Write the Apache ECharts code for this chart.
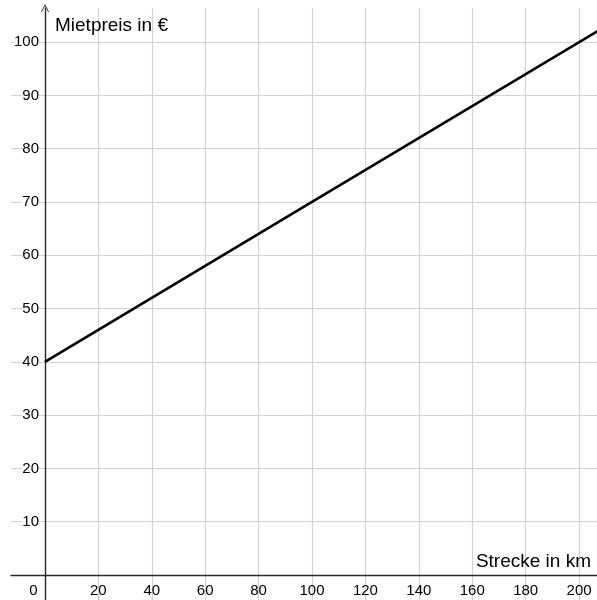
<!DOCTYPE html>
<html>
<head>
<meta charset="utf-8">
<script src="https://cdn.jsdelivr.net/npm/echarts@6/dist/echarts.min.js"></script>
<style>
html,body{margin:0;padding:0;background:#fff;}
#c{width:597px;height:600px;}
</style>
</head>
<body>
<div id="c"></div>
<script>
// Data
const distanceKm = [0, 100, 220];
const rentEuro = [40, 70, 106];
const xTicks = [0, 20, 40, 60, 80, 100, 120, 140, 160, 180, 200];
const yTicks = [0, 10, 20, 30, 40, 50, 60, 70, 80, 90, 100];
const xRange = [-12.7, 206.7];
const yRange = [-4.7, 106.4];
const xAxisTitle = 'Strecke in km';
const yAxisTitle = 'Mietpreis in €';

const FONT = 'Liberation Sans, Arial, sans-serif';
const chart = echarts.init(document.getElementById('c'), null, {renderer: 'canvas'});
const chevron = 'path://M0,10 L5,0 L10,10 L8.8,10 L5,2.2 L1.2,10 Z';

chart.setOption({
  animation: false,
  backgroundColor: '#fff',
  grid: {left: 11, right: 0, top: 8, bottom: 0, containLabel: false, outerBoundsMode: 'none'},
  xAxis: {
    type: 'value',
    min: xRange[0], max: xRange[1],
    position: 'bottom',
    offset: -25,
    name: xAxisTitle,
    nameLocation: 'end',
    nameGap: -6,
    nameTextStyle: {fontFamily: FONT, fontSize: 19, color: '#000', align: 'right', verticalAlign: 'bottom', padding: [0, 0, 4, 0]},
    axisLine: {onZero: false, lineStyle: {color: '#2a2a2a', width: 1.4}},
    axisTick: {show: false, customValues: xTicks},
    splitLine: {show: true, lineStyle: {color: '#d2d2d2', width: 1.2}},
    axisLabel: {
      customValues: xTicks,
      margin: 8, fontFamily: FONT, fontSize: 15, color: '#000',
      formatter: v => v === 0 ? '{z|0}' : String(v),
      rich: {z: {fontFamily: FONT, fontSize: 15, color: '#000', padding: [0, 23, 0, 0]}}
    }
  },
  yAxis: {
    type: 'value',
    min: yRange[0], max: yRange[1],
    position: 'left',
    offset: -34,
    name: yAxisTitle,
    nameLocation: 'end',
    nameGap: -18,
    nameTextStyle: {fontFamily: FONT, fontSize: 19, color: '#000', align: 'left', verticalAlign: 'middle', padding: [0, 0, 0, 10]},
    axisLine: {onZero: false, symbol: ['none', chevron], symbolSize: [10, 8], symbolOffset: [0, 0], lineStyle: {color: '#2a2a2a', width: 1.4}},
    axisTick: {show: false, customValues: yTicks},
    splitLine: {show: true, lineStyle: {color: '#d2d2d2', width: 1.2}},
    axisLabel: {
      customValues: yTicks,
      margin: 6, fontFamily: FONT, fontSize: 15, color: '#000',
      backgroundColor: '#fff',
      formatter: v => v === 0 ? '' : String(v)
    }
  },
  series: [{
    type: 'line',
    data: distanceKm.map((x, i) => [x, rentEuro[i]]),
    symbol: 'none',
    clip: true,
    lineStyle: {color: '#000', width: 2.6},
    silent: true
  }]
});
</script>
</body>
</html>
